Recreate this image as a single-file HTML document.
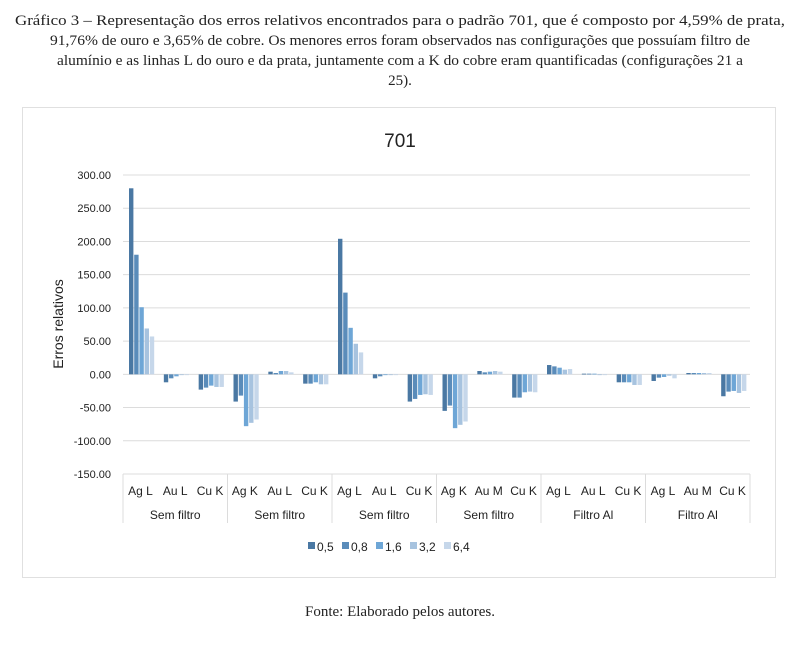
<!DOCTYPE html>
<html><head><meta charset="utf-8"><style>
body{margin:0;background:#fff;width:800px;height:652px;overflow:hidden}
svg{display:block}
</style></head><body>
<svg id="chart" width="800" height="652" xmlns="http://www.w3.org/2000/svg">
<g font-family="Liberation Serif, serif" font-size="15" fill="#222">
<text x="15" y="25" textLength="770" lengthAdjust="spacingAndGlyphs">Gráfico 3 – Representação dos erros relativos encontrados para o padrão 701, que é composto por 4,59% de prata,</text>
<text x="50" y="45" textLength="700" lengthAdjust="spacingAndGlyphs">91,76% de ouro e 3,65% de cobre. Os menores erros foram observados nas configurações que possuíam filtro de</text>
<text x="57" y="65" textLength="686" lengthAdjust="spacingAndGlyphs">alumínio e as linhas L do ouro e da prata, juntamente com a K do cobre eram quantificadas (configurações 21 a</text>
<text x="400" y="85" text-anchor="middle">25).</text>
</g>
<rect x="22.5" y="107.5" width="753" height="470" fill="#fff" stroke="#e0e0e0"/>
<text x="400" y="147" text-anchor="middle" font-family="Liberation Sans, sans-serif" font-size="19" fill="#222">701</text>
<text transform="translate(63,324) rotate(-90)" text-anchor="middle" font-family="Liberation Sans, sans-serif" font-size="14" fill="#222">Erros relativos</text>
<g id="grid"></g><g id="bars"></g><g id="xaxis"></g>
<text x="400" y="616" text-anchor="middle" font-family="Liberation Serif, serif" font-size="15" fill="#222">Fonte: Elaborado pelos autores.</text>
</svg>
<script>
const categories=["Ag L","Au L","Cu K","Ag K","Au L","Cu K","Ag L","Au L","Cu K","Ag K","Au M","Cu K","Ag L","Au L","Cu K","Ag L","Au M","Cu K"];
const groups=["Sem filtro","Sem filtro","Sem filtro","Sem filtro","Filtro Al","Filtro Al"];
const seriesNames=["0,5","0,8","1,6","3,2","6,4"];
const s05=[280,-12,-23,-41,4,-14,204,-6,-41,-55,5,-35,14,1,-12,-10,2,-33];
const s08=[180,-6,-20,-32,2,-14,123,-3,-37,-47,3,-35,12,1,-12,-5,2,-26];
const s16=[101,-3,-17,-78,5,-12,70,0,-31,-81,4,-27,10,1,-12,-4,2,-25];
const s32=[69,-1,-19,-73,5,-15,46,0,-30,-76,5,-26,7,0,-16,-2,2,-28];
const s64=[57,0,-19,-68,3,-15,33,0,-31,-71,4,-27,8,0,-16,-6,2,-25];
const yTicks=[300,250,200,150,100,50,0,-50,-100,-150];
const series=[s05,s08,s16,s32,s64];
const colors=["#4a78a3","#5a8cba","#6ea6d6","#a7c3df","#c6d7ea"];
const NS="http://www.w3.org/2000/svg";
const x0=123,x1=750,yTop=175,yBot=474,vMax=300,vMin=-150;
const y=v=>yTop+(vMax-v)*(yBot-yTop)/(vMax-vMin);
const catW=(x1-x0)/categories.length;
const cx=i=>x0+i*catW;
function mk(tag,attrs,parent){const e=document.createElementNS(NS,tag);for(const k in attrs)e.setAttribute(k,attrs[k]);parent.appendChild(e);return e;}
const grid=document.getElementById('grid'),bars=document.getElementById('bars'),xa=document.getElementById('xaxis');
yTicks.forEach(t=>{
 const l=mk('line',{x1:x0,x2:x1,y1:y(t),y2:y(t),stroke:'#dcdcdc','stroke-width':1},grid);
 
 
 const tx=mk('text',{x:111,y:y(t)+4,'text-anchor':'end','font-family':'Liberation Sans, sans-serif','font-size':11,fill:'#222'},grid);
 tx.textContent=t.toFixed(2);
 
 
});
const bw=5.2,off=6;
series.forEach((s,si)=>{s.forEach((v,i)=>{
 const bx=cx(i)+off+si*bw;const top=Math.min(y(v),y(0));const h=Math.max(Math.abs(y(v)-y(0)),0.8);
 const r=mk('rect',{x:bx,y:top,width:bw-0.8,height:h,fill:colors[si]},bars);
 
 
});});
categories.forEach((c,i)=>{
 const t=mk('text',{x:cx(i)+catW/2,y:495,'text-anchor':'middle','font-family':'Liberation Sans, sans-serif','font-size':12,fill:'#222'},xa);
 t.textContent=c;
 
 
});
const gw=(x1-x0)/groups.length;
groups.forEach((g,i)=>{
 const t=mk('text',{x:x0+gw*(i+0.5),y:519,'text-anchor':'middle','font-family':'Liberation Sans, sans-serif','font-size':12,fill:'#222'},xa);
 t.textContent=g;
 
 
});
for(let i=0;i<=groups.length;i++){
 const l=mk('line',{x1:x0+gw*i,x2:x0+gw*i,y1:474,y2:523,stroke:'#dcdcdc'},xa);
 
 
}
let lx=308;
seriesNames.forEach((n,si)=>{
 const g=mk('g',{},xa);
 
 
 mk('rect',{x:lx,y:542,width:7,height:7,fill:colors[si]},g);
 const t=mk('text',{x:lx+9,y:551,'font-family':'Liberation Sans, sans-serif','font-size':12,fill:'#222'},g);
 t.textContent=n;
 lx+=34;
});
</script>
</body></html>
